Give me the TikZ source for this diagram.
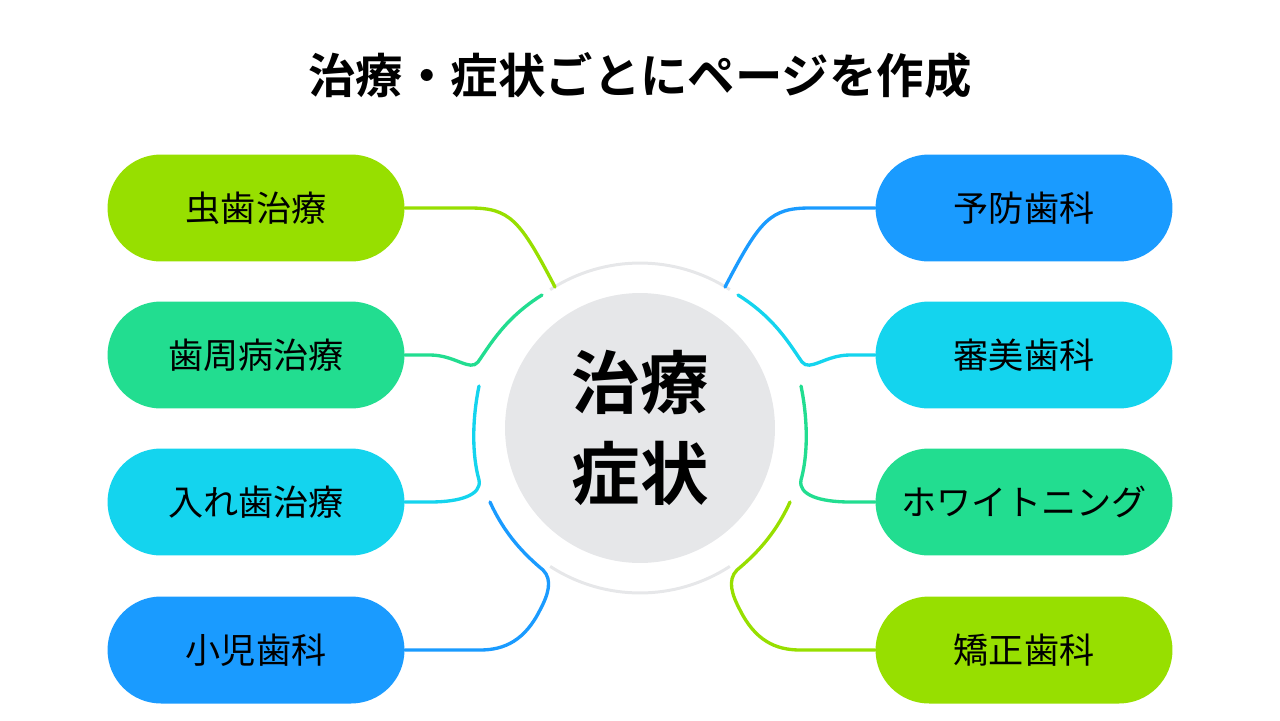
\documentclass[tikz,border=0pt]{standalone}
\usepackage{fontspec}
\setmainfont{Noto Sans CJK JP}
\newfontfamily\jpb{Noto Sans CJK JP Bold}
\definecolor{cg}{HTML}{97DF00}
\definecolor{ct}{HTML}{22DD90}
\definecolor{cc}{HTML}{14D4EE}
\definecolor{cb}{HTML}{1A9BFF}
\definecolor{ring}{HTML}{E6E7E9}
\begin{document}
\begin{tikzpicture}[x=0.02cm,y=-0.02cm,
 pill/.style={rectangle,rounded corners=1.07cm,minimum width=5.94cm,minimum height=2.14cm,inner sep=0pt,font=\fontsize{20}{24}\selectfont},
 conn/.style={line width=1.9pt,line cap=round}]
\useasboundingbox (0,0) rectangle (1280,720);
\node (title) at (640,75) {\jpb\fontsize{27}{32}\selectfont 治療・症状ごとにページを作成};
\node[circle,fill=ring,minimum size=5.4cm,inner sep=0pt,align=center,font=\jpb\fontsize{39}{52}\selectfont] (c) at (640,428) {治療\\症状};
\draw[ring,line width=1.7pt] ([shift={(57:3.3cm)}]c.center) arc[start angle=57,end angle=123,radius=3.3cm];
\draw[ring,line width=1.7pt] ([shift={(237:3.3cm)}]c.center) arc[start angle=237,end angle=303,radius=3.3cm];
\node[pill,fill=cg] (l1) at (256,208) {虫歯治療};
\node[pill,fill=ct] (l2) at (256,355) {歯周病治療};
\node[pill,fill=cc] (l3) at (256,502) {入れ歯治療};
\node[pill,fill=cb] (l4) at (256,650) {小児歯科};
\node[pill,fill=cb] (r1) at (1024,208) {予防歯科};
\node[pill,fill=cc] (r2) at (1024,355) {審美歯科};
\node[pill,fill=ct] (r3) at (1024,502) {ホワイトニング};
\node[pill,fill=cg] (r4) at (1024,650) {矯正歯科};
\coordinate (a1) at (555,287);
\coordinate (a2) at (542,295);
\coordinate (a3) at (479,386);
\coordinate (a4) at (490,502);
\coordinate (b1) at (725,287);
\coordinate (b2) at (738,295);
\coordinate (b3) at (801,386);
\coordinate (b4) at (790,502);
\draw[conn,cg] (l1.east) -- (470,208) .. controls (510,208) and (520,220) .. (a1);
\draw[conn,ct] (a2) .. controls (505,318) and (490,345) .. (478,362) .. controls (470,372) and (455,355) .. (430,355) -- (l2.east);
\draw[conn,cc] (a3) .. controls (472,420) and (472,455) .. (479,480) .. controls (482,495) and (460,502) .. (430,502) -- (l3.east);
\draw[conn,cb] (a4) .. controls (505,535) and (525,555) .. (543,570) .. controls (553,580) and (548,595) .. (540,610) .. controls (525,640) and (505,650) .. (480,650) -- (l4.east);
\draw[conn,cb] (r1.west) -- (810,208) .. controls (770,208) and (760,220) .. (b1);
\draw[conn,cc] (b2) .. controls (775,318) and (790,345) .. (802,362) .. controls (810,372) and (825,355) .. (850,355) -- (r2.west);
\draw[conn,ct] (b3) .. controls (808,420) and (808,455) .. (801,480) .. controls (798,495) and (820,502) .. (850,502) -- (r3.west);
\draw[conn,cg] (b4) .. controls (775,535) and (755,555) .. (737,570) .. controls (727,580) and (732,595) .. (740,610) .. controls (755,640) and (775,650) .. (800,650) -- (r4.west);
\end{tikzpicture}
\end{document}
